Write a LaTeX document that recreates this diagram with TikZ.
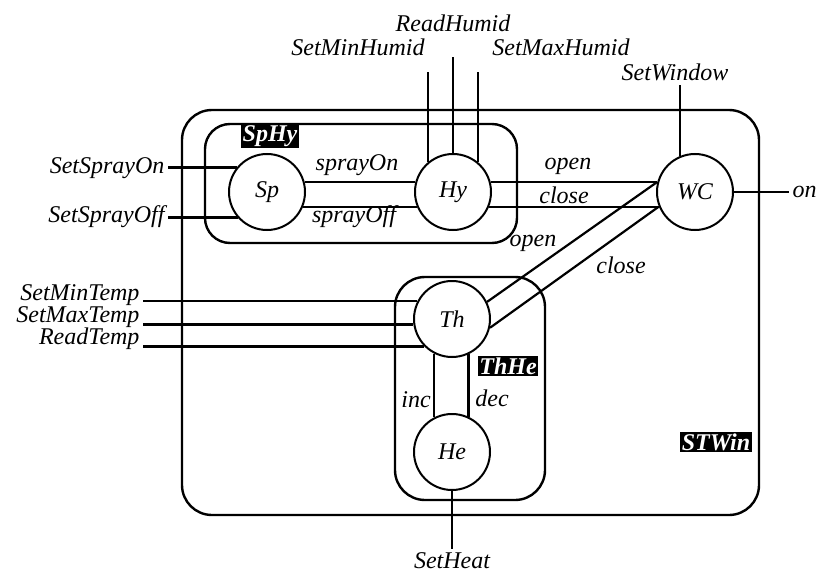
\documentclass[tikz,border=0pt]{standalone}
\usepackage{fontspec}
\setmainfont{Liberation Serif}
\tikzset{
  estado/.style={circle, draw, line width=2pt, minimum size=76pt, inner sep=0pt},
  etiq/.style={fill=black, text=white, font=\fontsize{24}{28}\selectfont\bfseries\itshape, inner sep=1.5pt},
  caja/.style={line width=2.4pt},
  linea/.style={line width=2.2pt}
}
\begin{document}
\begin{tikzpicture}[x=1pt, y=-1pt, font=\fontsize{24}{28}\selectfont\itshape]
  \useasboundingbox (0,0) rectangle (822,578);

  % Cajas
  \draw[caja, rounded corners=30pt] (182,110) rectangle (759,515);
  \draw[caja, rounded corners=25pt] (205,124) rectangle (517,243);
  \draw[caja, rounded corners=30pt] (395,277) rectangle (545,500);
  \node[etiq] (SpHy) at (270,136) {SpHy};
  \node[etiq] (ThHe) at (508,366) {ThHe};
  \node[etiq] (STWin) at (716,442) {STWin};

  % Procesos
  \node[estado] (Sp) at (267,192) {Sp};
  \node[estado] (Hy) at (453,192) {Hy};
  \node[estado] (WC) at (695,192) {WC};
  \node[estado] (Th) at (452,319) {Th};
  \node[estado] (He) at (452,452) {He};

  % Canales internos
  \draw[linea] (Sp.15) -- (Hy.165);
  \draw[linea] (Sp.-22) -- (Hy.202);
  \node (sprayOn) at (357,165) {sprayOn};
  \node (sprayOff) at (354,217) {sprayOff};
  \draw[linea] (Hy.15) -- (WC.165);
  \draw[linea] (Hy.-22) -- (WC.202);
  \node (openHy) at (568,166) {open};
  \node (closeHy) at (564,195) {close};
  \draw[linea] (WC.165) -- (Th.26);
  \draw[linea] (WC.202) -- (Th.-13);
  \node (openTh) at (533,243) {open};
  \node (closeTh) at (621,265) {close};
  \draw[linea] (Th.243) -- (He.117);
  \draw[linea] (Th.295) -- (He.65);
  \node (inc) at (416,400) {inc};
  \node (dec) at (492,398) {dec};

  % Canales externos
  \node[anchor=east] (SetSprayOn) at (168,168) {SetSprayOn};
  \node[anchor=east] (SetSprayOff) at (168,217) {SetSprayOff};
  \draw[linea] (Sp.141) -- (Sp.141 -| SetSprayOn.east);
  \draw[linea] (Sp.221) -- (Sp.221 -| SetSprayOff.east);

  \node (SetMinHumid) at (358,47) {SetMinHumid};
  \node (ReadHumid) at (453,23) {ReadHumid};
  \node (SetMaxHumid) at (561,47) {SetMaxHumid};
  \draw[linea] (Hy.130) -- (Hy.130 |- 0,72);
  \draw[linea] (Hy.north) -- (Hy.north |- 0,57);
  \draw[linea] (Hy.50) -- (Hy.50 |- 0,72);

  \node (SetWindow) at (675,72) {SetWindow};
  \draw[linea] (WC.113) -- (WC.113 |- 0,85);
  \node[anchor=west] (on) at (789,192) {on};
  \draw[linea] (WC.east) -- (on.west);

  \node[anchor=base east] (SetMinTemp) at (143,300) {SetMinTemp};
  \node[anchor=base east] (SetMaxTemp) at (143,322) {SetMaxTemp};
  \node[anchor=base east] (ReadTemp) at (143,344) {ReadTemp};
  \draw[linea] (Th.153) -- (Th.153 -| SetMinTemp.east);
  \draw[linea] (Th.188) -- (Th.188 -| SetMaxTemp.east);
  \draw[linea] (Th.225) -- (Th.225 -| ReadTemp.east);

  \node (SetHeat) at (452,561) {SetHeat};
  \draw[linea] (He.south) -- (SetHeat.north);
\end{tikzpicture}
\end{document}
